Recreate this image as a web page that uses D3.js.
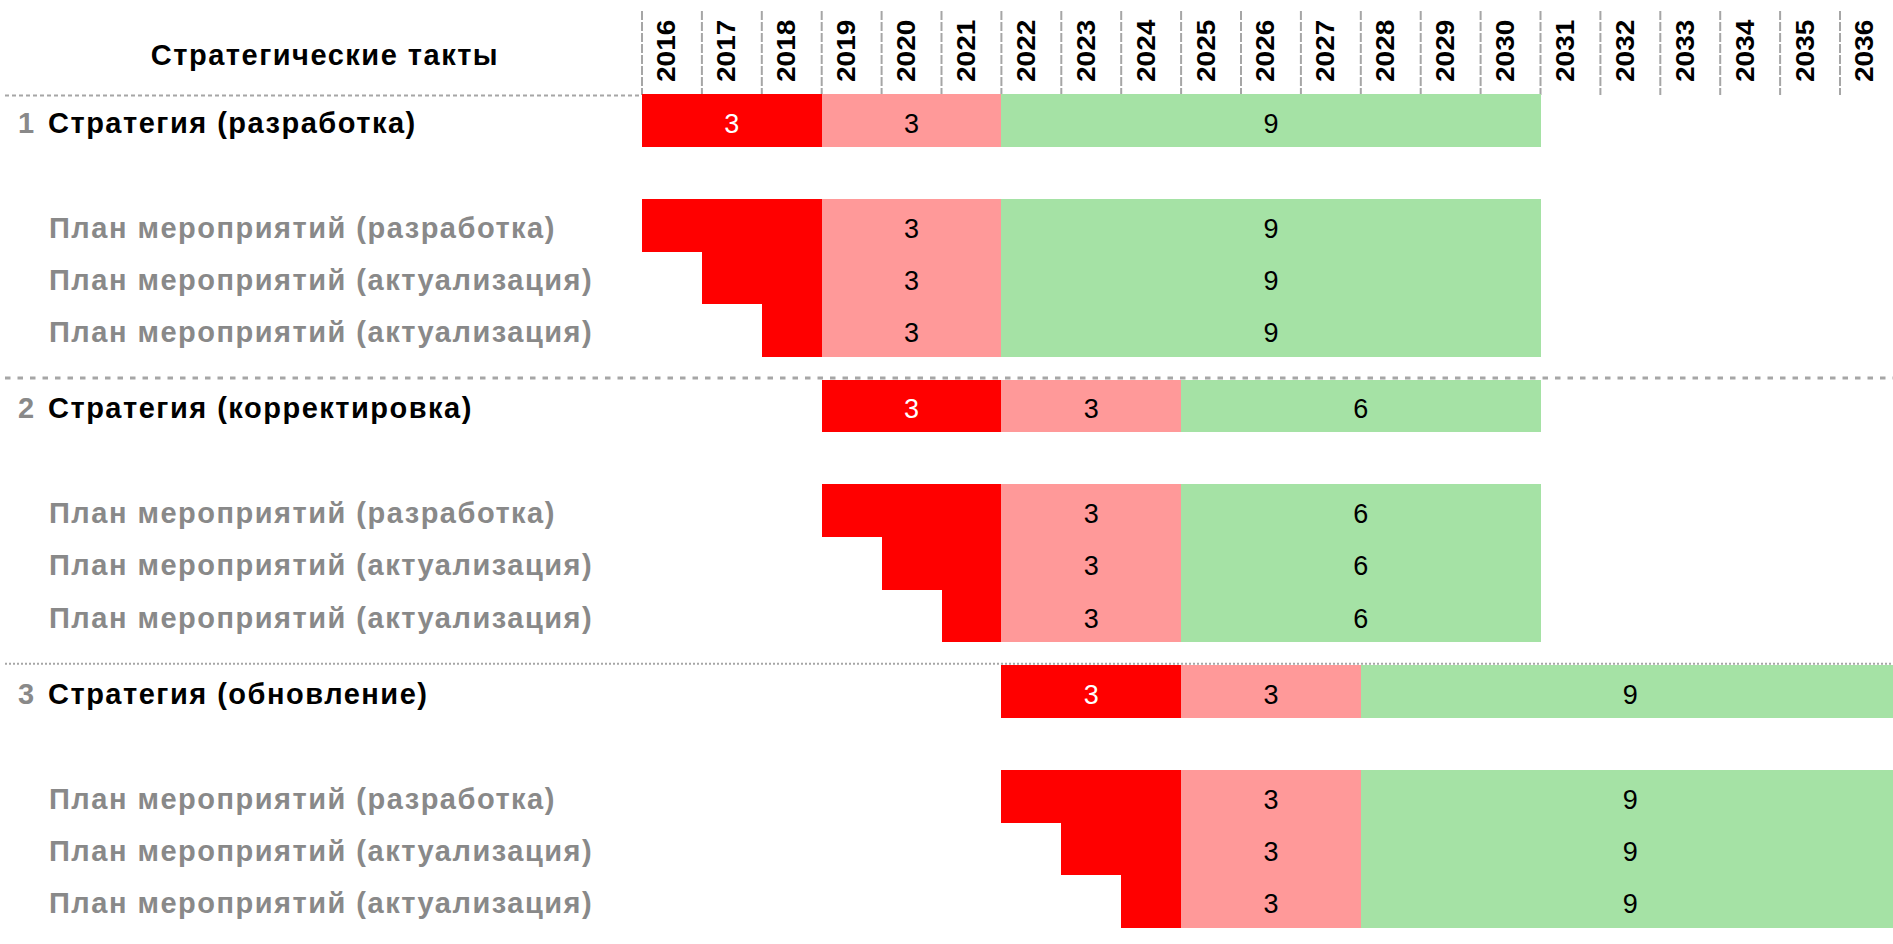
<!DOCTYPE html>
<html>
<head>
<meta charset="utf-8">
<script src="https://cdn.jsdelivr.net/npm/d3@7"></script>
<style>
  body { margin: 0; background: #fff; }
  svg { display: block; font-family: 'Liberation Sans', Arial, sans-serif; }
</style>
</head>
<body>
<svg class="chart"></svg>
<script>
const WIDTH = 1893;
const HEIGHT = 944;
const GRID_LEFT = 642;
const COL_W = 59.9;
const ROW_TOP = 94;
const ROW_H = 52.4;
const GROUP_PITCH = 5.45; // rows per group, gap included
const TEXT_DY = 38.7;

const years = ['2016', '2017', '2018', '2019', '2020', '2021', '2022', '2023', '2024', '2025', '2026',
  '2027', '2028', '2029', '2030', '2031', '2032', '2033', '2034', '2035', '2036'];
const groupNumbers = ['1', '2', '3'];
const strategyNames = ['Стратегия (разработка)', 'Стратегия (корректировка)', 'Стратегия (обновление)'];
const planNames = ['План мероприятий (разработка)', 'План мероприятий (актуализация)', 'План мероприятий (актуализация)'];
const strategyStarts = [2016, 2019, 2022];
const developYears = [3, 3, 3];
const approveYears = [3, 3, 3];
const implementYears = [9, 6, 9];
const planShift = [0, 1, 2];

const PHASE_COLORS = ['#ff0000', '#ff9999', '#a5e2a5'];
const VALUE_COLORS = ['#ffffff', '#000000', '#000000'];
const GREY = '#898989';
const LINE = '#a6a6a6';

// build rows: strategy row, empty row, then three plan rows per group
const rows = [];
strategyStarts.forEach((start, g) => {
  const phases = [developYears[g], approveYears[g], implementYears[g]];
  const bounds = [start, start + phases[0], start + phases[0] + phases[1], start + phases[0] + phases[1] + phases[2]];
  rows.push({
    slot: g * GROUP_PITCH,
    num: groupNumbers[g],
    label: strategyNames[g],
    main: true,
    segs: phases.map((v, p) => ({ phase: p, from: bounds[p], to: bounds[p + 1], value: v, show: true })),
  });
  planNames.forEach((name, i) => {
    rows.push({
      slot: g * GROUP_PITCH + 2 + i,
      label: name,
      main: false,
      segs: phases.map((v, p) => ({
        phase: p,
        from: p === 0 ? bounds[0] + planShift[i] : bounds[p],
        to: bounds[p + 1],
        value: v,
        show: p > 0,
      })),
    });
  });
});

const x = d3.scaleLinear().domain([2016, 2037]).range([GRID_LEFT, GRID_LEFT + 21 * COL_W]);
const y = d3.scaleLinear().domain([0, 1]).range([ROW_TOP, ROW_TOP + ROW_H]);

const svg = d3.select('.chart').attr('width', WIDTH).attr('height', HEIGHT);

// year columns in the header
svg.append('g').selectAll('line').data(years).enter().append('line')
  .attr('x1', (d) => x(+d))
  .attr('x2', (d) => x(+d))
  .attr('y1', 11)
  .attr('y2', 95)
  .style('stroke', LINE)
  .style('stroke-width', 2)
  .style('stroke-dasharray', '9,2');

svg.append('g').selectAll('text').data(years).enter().append('text')
  .attr('transform', (d) => `translate(${x(+d) + COL_W / 2 + 3.5},82) rotate(-90) scale(1.12,1)`)
  .style('font-size', '25px')
  .style('font-weight', 'bold')
  .style('fill', '#000')
  .text((d) => d);

svg.append('text')
  .attr('x', 325)
  .attr('y', 65)
  .attr('text-anchor', 'middle')
  .style('font-size', '29px')
  .style('font-weight', 'bold')
  .style('letter-spacing', '1.5px')
  .text('Стратегические такты');

// dashed separators
svg.append('line')
  .attr('x1', 5).attr('x2', GRID_LEFT)
  .attr('y1', 95.5).attr('y2', 95.5)
  .style('stroke', LINE)
  .style('stroke-width', 2)
  .style('stroke-dasharray', '4,3');

svg.append('g').selectAll('line').data(strategyStarts.slice(1)).enter().append('line')
  .attr('x1', 5).attr('x2', WIDTH)
  .attr('y1', (d, i) => y((i + 1) * GROUP_PITCH) - 1.5)
  .attr('y2', (d, i) => y((i + 1) * GROUP_PITCH) - 1.5)
  .style('stroke', LINE)
  .style('stroke-width', (d, i) => (i === 0 ? 3 : 2))
  .style('stroke-dasharray', (d, i) => (i === 0 ? '5.5,7' : '2,2'));

const row = svg.append('g').selectAll('g').data(rows).enter().append('g');

row.selectAll('rect').data((d) => d.segs.map((s) => ({ ...s, slot: d.slot }))).enter().append('rect')
  .attr('x', (d) => x(d.from))
  .attr('width', (d) => x(d.to) - x(d.from))
  .attr('y', (d) => y(d.slot))
  .attr('height', ROW_H + 0.5)
  .attr('shape-rendering', 'crispEdges')
  .style('fill', (d) => PHASE_COLORS[d.phase]);

row.selectAll('text.value').data((d) => d.segs.filter((s) => s.show).map((s) => ({ ...s, slot: d.slot })))
  .enter().append('text')
  .attr('class', 'value')
  .attr('x', (d) => (x(d.from) + Math.min(x(d.to), x(2037))) / 2)
  .attr('y', (d) => y(d.slot) + TEXT_DY)
  .attr('text-anchor', 'middle')
  .style('font-size', '27px')
  .style('fill', (d) => VALUE_COLORS[d.phase])
  .text((d) => d.value);

row.filter((d) => d.main).append('text')
  .attr('x', 18)
  .attr('y', (d) => y(d.slot) + TEXT_DY)
  .style('font-size', '29px')
  .style('font-weight', 'bold')
  .style('fill', GREY)
  .text((d) => d.num);

row.append('text')
  .attr('x', (d) => (d.main ? 48 : 49))
  .attr('y', (d) => y(d.slot) + TEXT_DY)
  .style('font-size', '29px')
  .style('font-weight', 'bold')
  .style('letter-spacing', '1.5px')
  .style('fill', (d) => (d.main ? '#000' : GREY))
  .text((d) => d.label);
</script>
</body>
</html>
